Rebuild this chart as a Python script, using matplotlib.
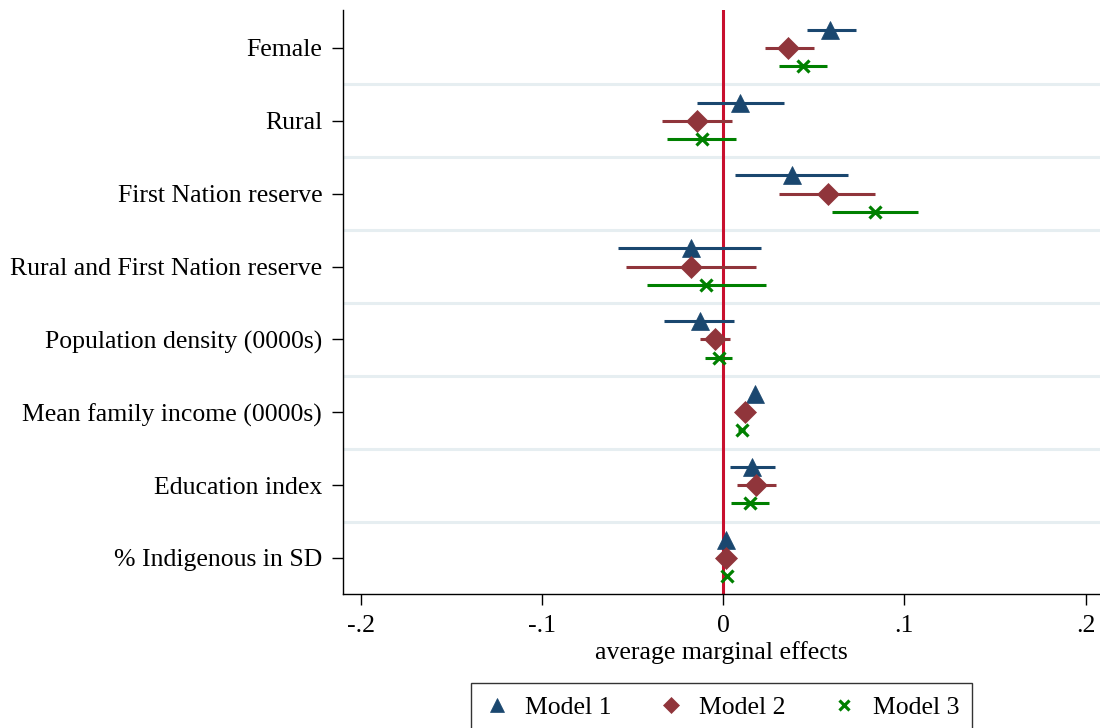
#!/usr/bin/env python3
"""Coefficient plot of average marginal effects for three models."""

import matplotlib.pyplot as plt

variables = ['Female', 'Rural', 'First Nation reserve',
             'Rural and First Nation reserve', 'Population density (0000s)',
             'Mean family income (0000s)', 'Education index',
             '% Indigenous in SD']

# point estimates and confidence bounds
m1_est = [0.059, 0.0094, 0.038, -0.018, -0.013, 0.0177, 0.016, 0.0015]
m1_lo = [0.046, -0.0143, 0.0066, -0.058, -0.0325, 0.016, 0.0039, 0.0010]
m1_hi = [0.073, 0.0336, 0.069, 0.021, 0.006, 0.019, 0.0285, 0.0020]

m2_est = [0.036, -0.0143, 0.058, -0.018, -0.0044, 0.012, 0.018, 0.0015]
m2_lo = [0.023, -0.034, 0.031, -0.054, -0.013, 0.010, 0.0075, 0.0010]
m2_hi = [0.050, 0.005, 0.084, 0.018, 0.0037, 0.014, 0.029, 0.0020]

m3_est = [0.044, -0.0116, 0.084, -0.0094, -0.0022, 0.0105, 0.0147, 0.0020]
m3_lo = [0.031, -0.031, 0.060, -0.042, -0.010, 0.008, 0.0045, 0.0015]
m3_hi = [0.057, 0.0072, 0.1076, 0.0237, 0.005, 0.012, 0.0252, 0.0025]

models = ['Model 1', 'Model 2', 'Model 3']
x_ticks = [-0.2, -0.1, 0, 0.1, 0.2]
x_tick_labels = ['-.2', '-.1', '0', '.1', '.2']

plt.rcParams['font.family'] = ['Liberation Serif', 'DejaVu Serif']
FS = 18.5

fig = plt.figure(figsize=(11, 7.28), dpi=100)
ax = fig.add_axes([0.3118, 0.1841, 0.6882, 0.8022])

# group separators
for k in range(1, len(variables)):
    ax.axhline(k + 0.5, color='#e6eef1', linewidth=2.2, zorder=0)

ax.axvline(0, color='#c8102e', linewidth=2.2, zorder=1)

styles = [
    (m1_est, m1_lo, m1_hi, -0.25, '#1a476f', '^', 13, 0.5),
    (m2_est, m2_lo, m2_hi, 0.0, '#90353b', 'D', 11, 0.5),
    (m3_est, m3_lo, m3_hi, 0.25, '#008000', 'x', 9, 2.3),
]
ypos = list(range(1, len(variables) + 1))
for (est, lo, hi, off, color, marker, ms, mew), name in zip(styles, models):
    ys = [y + off for y in ypos]
    ax.hlines(ys, lo, hi, color=color, linewidth=2.2, zorder=2)
    ax.plot(est, ys, linestyle='none', marker=marker, markersize=ms,
            color=color, markeredgewidth=mew, label=name, zorder=3)

ax.set_xlim(-0.21, 0.208)
ax.set_ylim(8.494, 0.479)
ax.set_xticks(x_ticks)
ax.set_xticklabels(x_tick_labels, fontsize=FS)
ax.set_yticks(ypos)
ax.set_yticklabels(variables, fontsize=FS)
ax.tick_params(axis='both', length=8, width=1, direction='out', pad=7)
ax.set_xlabel('average marginal effects', fontsize=FS, labelpad=3)

for side in ['top', 'right']:
    ax.spines[side].set_visible(False)
for side in ['left', 'bottom']:
    ax.spines[side].set_linewidth(1)

leg = ax.legend(loc='upper center', bbox_to_anchor=(0.5, -0.13), ncol=3,
                fontsize=FS, frameon=True, fancybox=False, edgecolor='black',
                handlelength=1.0, handletextpad=0.6, columnspacing=1.8,
                borderpad=0.5, markerscale=0.75)
leg.get_frame().set_linewidth(1)

fig.savefig('out.png', dpi=100)
